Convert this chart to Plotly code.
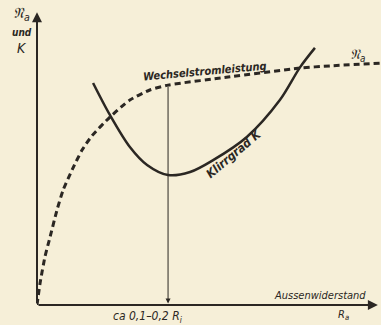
import plotly.graph_objects as go

# AC output power (dashed) versus load resistance R_a
ra_power = [0.0, 0.09, 0.23, 0.38, 0.58, 0.76, 1.02, 1.31, 1.60, 2.12, 2.70, 3.28, 3.81, 5.61, 7.65, 8.52, 10.0]
power = [0.0, 0.72, 1.57, 2.23, 3.11, 3.77, 4.43, 5.08, 5.55, 6.16, 6.72, 7.05, 7.21, 7.48, 7.77, 7.84, 7.93]

# Distortion factor K (solid) versus load resistance R_a
ra_k = [1.63, 2.12, 2.70, 3.20, 3.81, 4.45, 5.12, 6.10, 7.06, 7.65, 8.08]
klirr = [7.28, 6.23, 5.18, 4.59, 4.26, 4.36, 4.75, 5.51, 6.72, 7.80, 8.43]

# Optimum load, roughly 0.1-0.2 R_i
r_opt = 3.81
p_opt = 7.21

INK = "#2b2723"
PAPER = "#f6efd8"
FONT = "Liberation Sans Narrow, DejaVu Sans Condensed, Arial Narrow, sans-serif"

fig = go.Figure()
fig.add_trace(go.Scatter(
    x=ra_power, y=power, mode="lines",
    line=dict(color=INK, width=3, dash="6px,4px", shape="spline", smoothing=0.6),
    hoverinfo="skip", showlegend=False))
fig.add_trace(go.Scatter(
    x=ra_k, y=klirr, mode="lines",
    line=dict(color=INK, width=2.5, shape="spline", smoothing=0.9),
    hoverinfo="skip", showlegend=False))

def arrow(x0, y0, x1, y1, width, head):
    fig.add_annotation(x=x1, y=y1, ax=x0, ay=y0, xref="x", yref="y",
                       axref="x", ayref="y", text="", showarrow=True,
                       arrowhead=head, arrowsize=1, arrowwidth=width,
                       arrowcolor=INK)

# axes with arrowheads
arrow(0, 0, 0, 9.6, 2, 2)
arrow(0, 0, 9.91, 0, 2, 2)
# marker line down to the optimum load
arrow(r_opt, p_opt, r_opt, 0.05, 1, 2)

def label(x, y, text, size=11, angle=0):
    # positions in axis units; paper refs so labels outside the range still show
    fig.add_annotation(x=x / 10, y=y / 10, xref="paper", yref="paper", text=text,
                       xanchor="center", yanchor="middle",
                       showarrow=False, textangle=angle,
                       font=dict(family=FONT, size=size, color=INK))

label(4.88, 7.67, "<i><b>Wechselstromleistung</b></i>", 11, -5)
label(5.72, 4.95, "<i><b>Klirrgrad K</b></i>", 12, -40)
label(9.33, 8.2, "<i>𝔑<sub>a</sub></i>", 14)
label(8.23, 0.3, "<i>Aussenwiderstand</i>", 11)
label(8.9, -0.33, "<i>R<sub>a</sub></i>", 11)
label(3.24, -0.4, "<i>ca 0,1–0,2 R<sub>i</sub></i>", 12)
label(-0.44, 9.57, "<i>𝔑<sub>a</sub></i>", 15)
label(-0.44, 8.92, "<i><b>und</b></i>", 10)
label(-0.44, 8.43, "<i>K</i>", 14)

fig.update_layout(
    width=381, height=325,
    margin=dict(l=37, r=0, t=0, b=20),
    paper_bgcolor=PAPER, plot_bgcolor=PAPER,
    xaxis=dict(range=[0, 10], visible=False, fixedrange=True),
    yaxis=dict(range=[0, 10], visible=False, fixedrange=True),
)

fig.write_html("out.html")
